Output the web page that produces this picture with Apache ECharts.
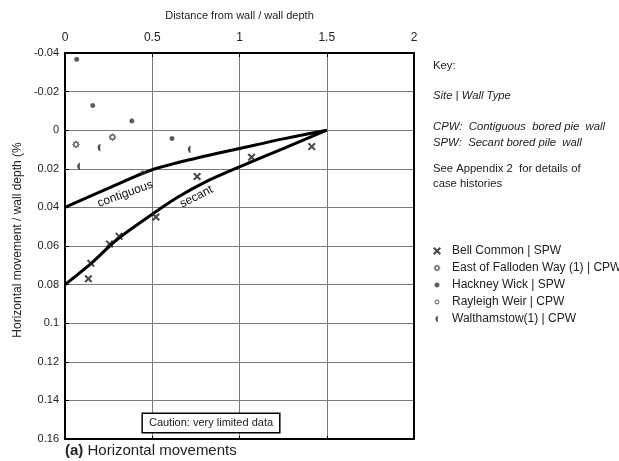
<!DOCTYPE html>
<html>
<head>
<meta charset="utf-8">
<script src="https://cdn.jsdelivr.net/npm/echarts@6/dist/echarts.min.js"></script>
<style>
  html, body { margin: 0; padding: 0; background: #fff; }
  #chart { width: 619px; height: 461px; }
</style>
</head>
<body>
<div id="chart"></div>
<script>
// data: [distance / wall depth, horizontal movement / wall depth %]
const bellCommon = [[0.134, 0.077], [0.148, 0.069], [0.255, 0.059], [0.31, 0.055], [0.521, 0.045], [0.757, 0.024], [1.069, 0.014], [1.414, 0.0085]]
const eastFalloden = [[0.063, 0.0074], [0.272, 0.0036]]
const hackneyWick = [[0.067, -0.0367], [0.159, -0.0128], [0.383, -0.0048], [0.613, 0.0043]]
const rayleighWeir = [[0.446, 0.022]]
const walthamstow = [[0.08, 0.0187], [0.197, 0.009], [0.714, 0.0099]]

const contiguousLine = [[0, 0.04], [0.25, 0.03], [0.5, 0.0205], [0.75, 0.0145], [1, 0.0095], [1.25, 0.0045], [1.5, 0]]
const secantLine = [[0, 0.08], [0.15, 0.069], [0.3, 0.0565], [0.5, 0.0435], [0.65, 0.0345], [0.8, 0.027], [1, 0.019], [1.25, 0.0095], [1.5, 0]]

const seriesNames = ['Bell Common | SPW', 'East of Falloden Way (1) | CPW', 'Hackney Wick | SPW', 'Rayleigh Weir | CPW', 'Walthamstow(1) | CPW']

const keyLines = ['Key:', 'Site | Wall Type', 'CPW:  Contiguous  bored pie  wall', 'SPW:  Secant bored pile  wall', 'See Appendix 2  for details of', 'case histories']

// symbol shapes, all drawn in a 10x10 box so plot and legend share one scale
const box = 'M0,0M10,10'
const ring = (cx, cy, r, n, reverse) => {
  let d = ''
  for (let i = 0; i < n; i++) {
    const a = (reverse ? -1 : 1) * (i / n) * Math.PI * 2
    d += (i === 0 ? 'M' : 'L') + (cx + r * Math.cos(a)).toFixed(2) + ',' + (cy + r * Math.sin(a)).toFixed(2)
  }
  return d + 'Z'
}

const crossPath = 'path://M0,1.8L1.8,0L5,3.2L8.2,0L10,1.8L6.8,5L10,8.2L8.2,10L5,6.8L1.8,10L0,8.2L3.2,5Z'

const makeSun = () => {
  let d = ''
  for (let i = 0; i < 16; i++) {
    const a = (i / 16) * Math.PI * 2
    const r = i % 2 === 0 ? 4.6 : 3.1
    d += (i === 0 ? 'M' : 'L') + (5 + r * Math.cos(a)).toFixed(2) + ',' + (5 + r * Math.sin(a)).toFixed(2)
  }
  d += 'Z' + ring(5, 5, 1.6, 10, true)
  return 'path://' + box + d
}

const makeMoon = () => {
  let d = ''
  for (let i = 0; i <= 12; i++) {
    const t = -Math.PI / 2 + (i / 12) * Math.PI
    d += (i === 0 ? 'M' : 'L') + (6.5 - 3.4 * Math.cos(t)).toFixed(2) + ',' + (5 + 4 * Math.sin(t)).toFixed(2)
  }
  for (let i = 12; i >= 0; i--) {
    const t = -Math.PI / 2 + (i / 12) * Math.PI
    d += 'L' + (6.5 - 0.6 * Math.cos(t)).toFixed(2) + ',' + (5 + 4 * Math.sin(t)).toFixed(2)
  }
  return 'path://' + box + d + 'Z'
}

const sunPath = makeSun()
const moonPath = makeMoon()
const dotPath = 'path://' + box + ring(5, 5, 3.1, 20, false)
const openDotPath = 'path://' + box + ring(5, 5, 3, 20, false) + ring(5, 5, 1.7, 16, true)

const ink = '#1a1a1a'
const textColor = '#222'
const font = 'Liberation Sans, Arial, sans-serif'
const fmt = (v) => String(Math.round(v * 100) / 100)

const chart = echarts.init(document.getElementById('chart'))

const option = {
  animation: false,
  backgroundColor: '#fff',
  textStyle: { fontFamily: font },
  grid: { left: 65, right: 205, top: 53, bottom: 22 },
  legend: {
    orient: 'vertical',
    left: 428,
    top: 240,
    itemWidth: 20,
    itemHeight: 8,
    itemGap: 5,
    data: seriesNames,
    textStyle: { fontSize: 12, color: textColor, lineHeight: 12 }
  },
  xAxis: [
    {
      type: 'value',
      position: 'top',
      min: 0,
      max: 2,
      interval: 0.5,
      name: 'Distance from wall / wall depth',
      nameLocation: 'middle',
      nameGap: 32,
      nameTextStyle: { fontSize: 11, color: textColor },
      axisLine: { show: true, onZero: false, lineStyle: { color: '#000', width: 2 } },
      axisTick: { show: true, inside: true, length: 4, lineStyle: { color: '#000' } },
      axisLabel: { fontSize: 12, color: textColor, margin: 9, formatter: fmt },
      splitLine: { show: true, lineStyle: { color: '#7a7a7a', width: 1 } }
    },
    {
      type: 'value',
      position: 'bottom',
      min: 0,
      max: 2,
      interval: 0.5,
      axisLine: { show: true, onZero: false, lineStyle: { color: '#000', width: 2 } },
      axisTick: { show: true, inside: true, length: 3, lineStyle: { color: '#000' } },
      axisLabel: { show: false },
      splitLine: { show: false }
    }
  ],
  yAxis: [
    {
      type: 'value',
      inverse: true,
      min: -0.04,
      max: 0.16,
      interval: 0.02,
      axisLine: { show: true, onZero: false, lineStyle: { color: '#000', width: 2 } },
      axisTick: { show: true, inside: true, length: 4, lineStyle: { color: '#000' } },
      axisLabel: { fontSize: 11, color: textColor, margin: 6, formatter: fmt },
      splitLine: { show: true, lineStyle: { color: '#7a7a7a', width: 1 } }
    },
    {
      type: 'value',
      inverse: true,
      position: 'right',
      min: -0.04,
      max: 0.16,
      interval: 0.02,
      axisLine: { show: true, onZero: false, lineStyle: { color: '#000', width: 2 } },
      axisTick: { show: false },
      axisLabel: { show: false },
      splitLine: { show: false }
    }
  ],
  series: [
    {
      name: 'contiguous',
      type: 'line',
      data: contiguousLine,
      smooth: 0.3,
      showSymbol: false,
      lineStyle: { color: '#000', width: 3 },
      z: 3
    },
    {
      name: 'secant',
      type: 'line',
      data: secantLine,
      smooth: 0.3,
      showSymbol: false,
      lineStyle: { color: '#000', width: 3 },
      z: 3
    },
    {
      name: seriesNames[0],
      type: 'scatter',
      data: bellCommon,
      symbol: crossPath,
      symbolSize: 8,
      itemStyle: { color: ink },
      z: 4
    },
    {
      name: seriesNames[1],
      type: 'scatter',
      data: eastFalloden,
      symbol: sunPath,
      symbolSize: 9,
      itemStyle: { color: '#444' },
      z: 4
    },
    {
      name: seriesNames[2],
      type: 'scatter',
      data: hackneyWick,
      symbol: dotPath,
      symbolSize: 8,
      itemStyle: { color: '#333' },
      z: 4
    },
    {
      name: seriesNames[3],
      type: 'scatter',
      data: rayleighWeir,
      symbol: openDotPath,
      symbolSize: 8,
      itemStyle: { color: '#444' },
      z: 4
    },
    {
      name: seriesNames[4],
      type: 'scatter',
      data: walthamstow,
      symbol: moonPath,
      symbolSize: 9,
      itemStyle: { color: ink },
      z: 4
    }
  ]
}

chart.setOption(option)

// labels along the two lines
const pContig = chart.convertToPixel({ xAxisIndex: 0, yAxisIndex: 0 }, [0.345, 0.033])
const pSecant = chart.convertToPixel({ xAxisIndex: 0, yAxisIndex: 0 }, [0.753, 0.0345])

const keyY = [66, 96, 127, 143, 169, 184]
const keyItalic = [false, true, true, true, false, false]

const graphic = [
  {
    type: 'text',
    x: 18,
    y: 240,
    rotation: Math.PI / 2,
    style: {
      text: 'Horizontal movement / wall depth (%',
      fontSize: 12,
      fill: textColor,
      align: 'center',
      verticalAlign: 'middle',
      fontFamily: font
    }
  },
  {
    type: 'text',
    x: pContig[0],
    y: pContig[1],
    rotation: 20 * Math.PI / 180,
    z: 10,
    style: {
      text: 'contiguous',
      fontSize: 12,
      fill: '#111',
      align: 'center',
      verticalAlign: 'middle',
      fontFamily: font
    }
  },
  {
    type: 'text',
    x: pSecant[0],
    y: pSecant[1],
    rotation: 27 * Math.PI / 180,
    z: 10,
    style: {
      text: 'secant',
      fontSize: 12,
      fill: '#111',
      align: 'center',
      verticalAlign: 'middle',
      fontFamily: font
    }
  },
  {
    type: 'text',
    x: 211,
    y: 423,
    z: 10,
    style: {
      text: 'Caution: very limited data',
      fontSize: 11,
      fill: textColor,
      align: 'center',
      verticalAlign: 'middle',
      backgroundColor: '#fff',
      borderColor: '#000',
      borderWidth: 1.5,
      padding: [4, 6, 3, 6],
      fontFamily: font
    }
  },
  {
    type: 'text',
    x: 65,
    y: 451,
    style: {
      text: '{b|(a)} Horizontal movements',
      fontSize: 15,
      fill: textColor,
      align: 'left',
      verticalAlign: 'middle',
      fontFamily: font,
      rich: {
        b: { fontSize: 15, fontWeight: 'bold', fill: textColor, fontFamily: font }
      }
    }
  }
]

keyLines.forEach((line, i) => {
  graphic.push({
    type: 'text',
    x: 433,
    y: keyY[i],
    style: {
      text: line,
      fontSize: 11.3,
      fontStyle: keyItalic[i] ? 'italic' : 'normal',
      fill: textColor,
      align: 'left',
      verticalAlign: 'middle',
      fontFamily: font
    }
  })
})

chart.setOption({ graphic: graphic })
</script>
</body>
</html>
